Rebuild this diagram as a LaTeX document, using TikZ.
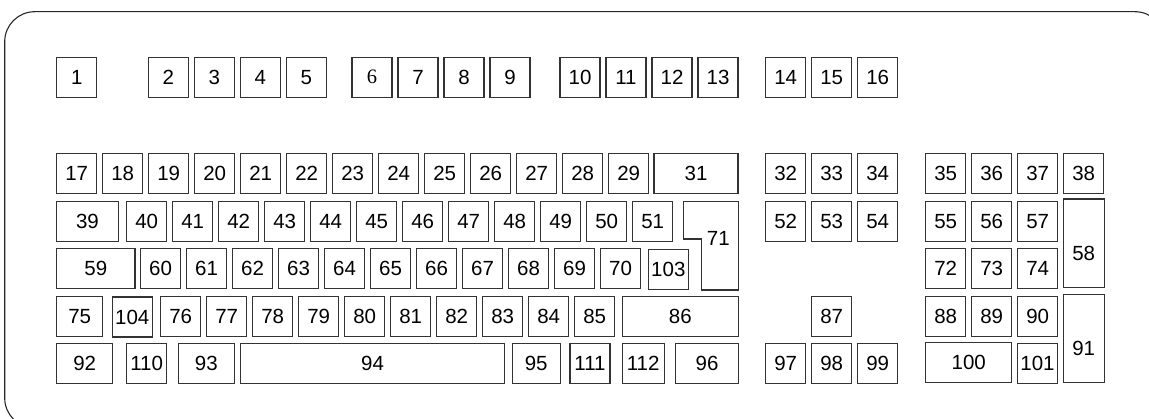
\documentclass[tikz,border=0pt]{standalone}
\usepackage{fontspec}
\setmainfont{Liberation Sans}
\newfontfamily\keyserif{Liberation Serif}
\usepackage{tikz}

\begin{document}
\begin{tikzpicture}[x=1pt, y=-1pt,
    key/.style={draw=black!80, line width=1.1pt, rectangle, inner sep=0pt,
      minimum width=40pt, minimum height=40pt, font=\fontsize{20.5}{22}\selectfont}]
    \useasboundingbox (0,0) rectangle (1149,419);
    \clip (0,0) rectangle (1149,419);

    % case outline
    \draw[black!85, line width=1.1pt, rounded corners=30pt] (4.7,11.7) rectangle (1165,428);

    % function row
    \node[key] (k1) at (76.7,77.3) {1};
    \foreach \n in {2,...,5}
      \node[key] (k\n) at ({168.3+46*(\n-2)},77.3) {\n};
    \node[key] (k6) at (372,77.3) {\keyserif 6};
    \foreach \n in {7,8,9}
      \node[key] (k\n) at ({372+46*(\n-6)},77.3) {\n};
    \foreach \n in {10,...,13}
      \node[key] (k\n) at ({580+46*(\n-10)},77.3) {\n};
    \foreach \n in {14,15,16}
      \node[key] (k\n) at ({785.7+46*(\n-14)},77.3) {\n};

    % number row
    \foreach \n in {17,...,29}
      \node[key] (k\n) at ({76.7+46*(\n-17)},173.3) {\n};
    \node[key, minimum width=84pt] (k31) at (696,173.3) {31};
    \foreach \n in {32,33,34}
      \node[key] (k\n) at ({785.7+46*(\n-32)},173.3) {\n};
    \foreach \n in {35,...,38}
      \node[key] (k\n) at ({945.7+46*(\n-35)},173.3) {\n};

    % upper letter row
    \node[key, minimum width=61.6pt] (k39) at (87.5,221.3) {39};
    \foreach \n in {40,...,51}
      \node[key] (k\n) at ({146.7+46*(\n-40)},221.3) {\n};
    \foreach \n in {52,53,54}
      \node[key] (k\n) at ({785.7+46*(\n-52)},221.3) {\n};
    \foreach \n in {55,56,57}
      \node[key] (k\n) at ({945.7+46*(\n-55)},221.3) {\n};
    \node[key, minimum width=40.7pt, minimum height=88.3pt] (k58) at (1083.7,243.2) {\raisebox{-10pt}[15pt][0pt]{58}};

    % enter key (L-shaped)
    \draw[black!80, line width=1.1pt] (683.3,201.7) -- (738.3,201.7) -- (738.3,290)
      -- (701.7,290) -- (701.7,239) -- (683.3,239) -- cycle;
    \node[font=\fontsize{20.5}{22}\selectfont] (k71) at (718.3,238.3) {71};

    % home row
    \node[key, minimum width=78.3pt] (k59) at (95.8,268.5) {59};
    \foreach \n in {60,...,70}
      \node[key] (k\n) at ({160.6+46*(\n-60)},268.5) {\n};
    \node[key] (k103) at (668.3,269.6) {103};
    \foreach \n in {72,73,74}
      \node[key] (k\n) at ({945.7+46*(\n-72)},268.5) {\n};

    % lower letter row
    \node[key, minimum width=46pt] (k75) at (79.7,316.4) {75};
    \node[key] (k104) at (132.3,317) {104};
    \foreach \n in {76,...,85}
      \node[key] (k\n) at ({180.7+46*(\n-76)},316.4) {\n};
    \node[key, minimum width=116pt] (k86) at (680.3,316.4) {86};
    \node[key] (k87) at (831.7,316.4) {87};
    \foreach \n in {88,89,90}
      \node[key] (k\n) at ({945.7+46*(\n-88)},316.4) {\n};
    \node[key, minimum width=40.7pt, minimum height=88.4pt] (k91) at (1083.7,338.5) {\raisebox{-10pt}[15pt][0pt]{91}};

    % bottom row
    \node[key, minimum width=56pt] (k92) at (84.7,363.7) {92};
    \node[key] (k110) at (146.7,363.7) {110};
    \node[key, minimum width=56pt] (k93) at (206.3,363.7) {93};
    \node[key, minimum width=263.6pt] (k94) at (372.5,363.7) {94};
    \node[key, minimum width=47.7pt] (k95) at (536.2,363.7) {95};
    \node[key] (k111) at (590,363.7) {111};
    \node[key, minimum width=41.7pt] (k112) at (643.2,363.7) {112};
    \node[key, minimum width=62.6pt] (k96) at (707,363.7) {96};
    \foreach \n in {97,98,99}
      \node[key] (k\n) at ({785.7+46*(\n-97)},363.7) {\n};
    \node[key, minimum width=86pt] (k100) at (968.7,362.3) {100};
    \node[key] (k101) at (1037.5,363.7) {101};
  \end{tikzpicture}
\end{document}
